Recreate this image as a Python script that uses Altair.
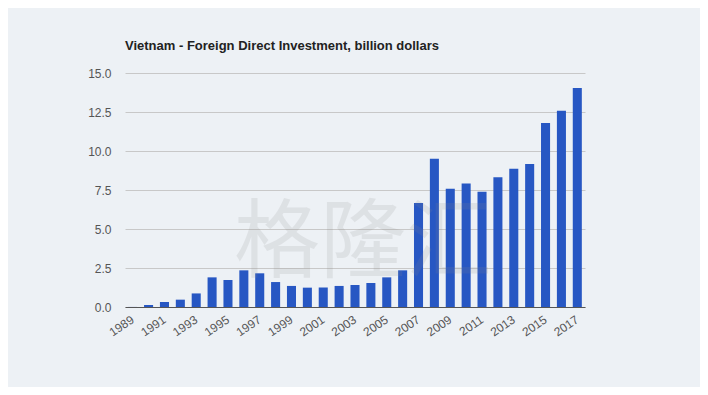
import altair as alt
import pandas as pd

years = [str(y) for y in range(1989, 2018)]
fdi = [0.004, 0.13, 0.32, 0.47, 0.87, 1.90, 1.73, 2.35, 2.16, 1.60, 1.35, 1.24,
       1.25, 1.35, 1.41, 1.54, 1.90, 2.35, 6.67, 9.51, 7.58, 7.92, 7.39, 8.31,
       8.87, 9.17, 11.80, 12.58, 14.04]
tick_years = [str(y) for y in range(1989, 2018, 2)]
y_ticks = [0, 2.5, 5, 7.5, 10, 12.5, 15]
title_text = "Vietnam - Foreign Direct Investment, billion dollars"
watermark = "格隆汇"

df = pd.DataFrame({"year": years, "fdi": fdi})

bars = alt.Chart(df).mark_bar(color="#2757c3").encode(
    x=alt.X("year:O", title=None,
            scale=alt.Scale(paddingInner=0.43, paddingOuter=0.2),
            axis=alt.Axis(values=tick_years, labelAngle=326, labelAlign="right",
                          labelBaseline="middle", labelPadding=11, ticks=False,
                          domainColor="#555555", domainWidth=1,
                          labelFont="Liberation Sans", labelFontSize=12,
                          labelColor="#555555")),
    y=alt.Y("fdi:Q", title=None,
            scale=alt.Scale(domain=[0, 15], nice=False),
            axis=alt.Axis(values=y_ticks, format=".1f", domain=False, ticks=False,
                          labelPadding=14, gridColor="#c8c8c8",
                          labelFont="Liberation Sans", labelFontSize=12,
                          labelColor="#555555")),
)

wm = alt.Chart(pd.DataFrame({"t": [watermark]})).mark_text(
    font="Noto Sans CJK SC", fontSize=86, color="#8a8a8a", opacity=0.15,
    align="center", baseline="middle"
).encode(text="t:N", x=alt.value(238), y=alt.value(172))

chart = alt.layer(bars, wm).properties(
    width=460, height=234,
    autosize=alt.AutoSizeParams(type="none"),
    padding={"left": 117, "top": 65, "right": 115, "bottom": 80},
    background="#edf1f5",
    title=alt.TitleParams(title_text, anchor="start", frame="group",
                          font="Liberation Sans", fontSize=13, fontWeight="bold",
                          color="#222222", offset=14),
).configure_view(stroke=None)

chart.save("out.html", embed_options={"renderer": "svg", "actions": False})
